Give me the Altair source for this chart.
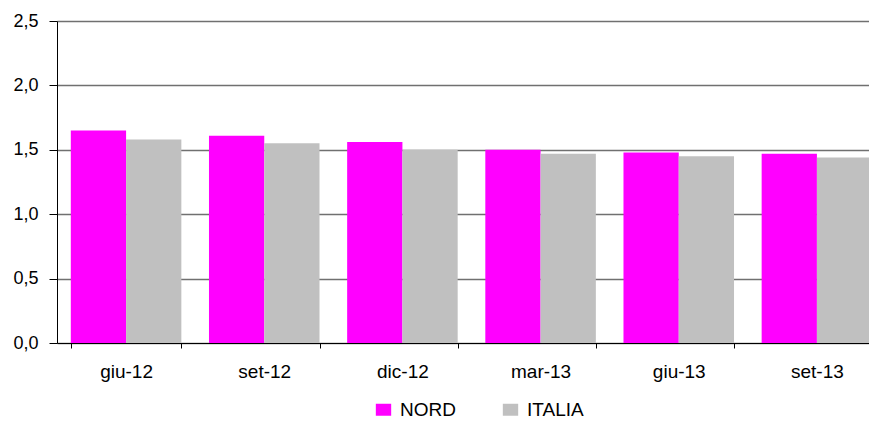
import altair as alt
import pandas as pd

periods = ["giu-12", "set-12", "dic-12", "mar-13", "giu-13", "set-13"]
nord = [1.65, 1.61, 1.56, 1.50, 1.48, 1.47]
italia = [1.58, 1.55, 1.50, 1.47, 1.45, 1.44]
series = ["NORD", "ITALIA"]
colors = ["#FF00FF", "#C0C0C0"]

rows = []
for i, p in enumerate(periods):
    rows.append({"periodo": p, "serie": "NORD", "valore": nord[i]})
    rows.append({"periodo": p, "serie": "ITALIA", "valore": italia[i]})
df = pd.DataFrame(rows)

FONT = "Liberation Sans"

chart = alt.Chart(df).mark_bar().encode(
    x=alt.X("periodo:N", sort=periods, title=None,
            scale=alt.Scale(range=[0, 829], paddingInner=0.2, paddingOuter=0.1),
            axis=alt.Axis(labelAngle=0, tickBand="extent", tickSize=5, tickColor="black",
                          domainColor="black", labelPadding=14, labelFontSize=19,
                          labelFont=FONT, labelColor="black", grid=False)),
    xOffset=alt.XOffset("serie:N", sort=series, scale=alt.Scale(paddingInner=0, paddingOuter=0)),
    y=alt.Y("valore:Q", title=None,
            scale=alt.Scale(domain=[0, 2.5], nice=False),
            axis=alt.Axis(values=[0, 0.5, 1.0, 1.5, 2.0, 2.5], tickSize=8, tickColor="black",
                          domainColor="black", labelPadding=11, labelFontSize=18,
                          labelFont=FONT, labelColor="black",
                          labelExpr="replace(format(datum.value, '.1f'), '.', ',')",
                          grid=True, gridColor="#707070", gridWidth=1.5)),
    color=alt.Color("serie:N", sort=series,
                    scale=alt.Scale(domain=series, range=colors),
                    legend=alt.Legend(title=None, orient="none", direction="horizontal",
                                      legendX=317, legendY=379, padding=0,
                                      symbolType="M-1.28,-1H1.28V1H-1.28Z", symbolSize=144,
                                      symbolStrokeWidth=0, symbolOpacity=1,
                                      labelFontSize=19, labelFont=FONT, labelColor="black",
                                      labelOffset=7, columnPadding=45)),
).properties(
    width=812, height=322,
    autosize=alt.AutoSizeParams(type="none"),
    padding={"left": 49, "top": 13, "right": 0, "bottom": 78},
).configure_view(stroke=None).configure_axis(domainWidth=1, tickWidth=1)

chart.save("out.html", embed_options={"renderer": "svg", "actions": False})
